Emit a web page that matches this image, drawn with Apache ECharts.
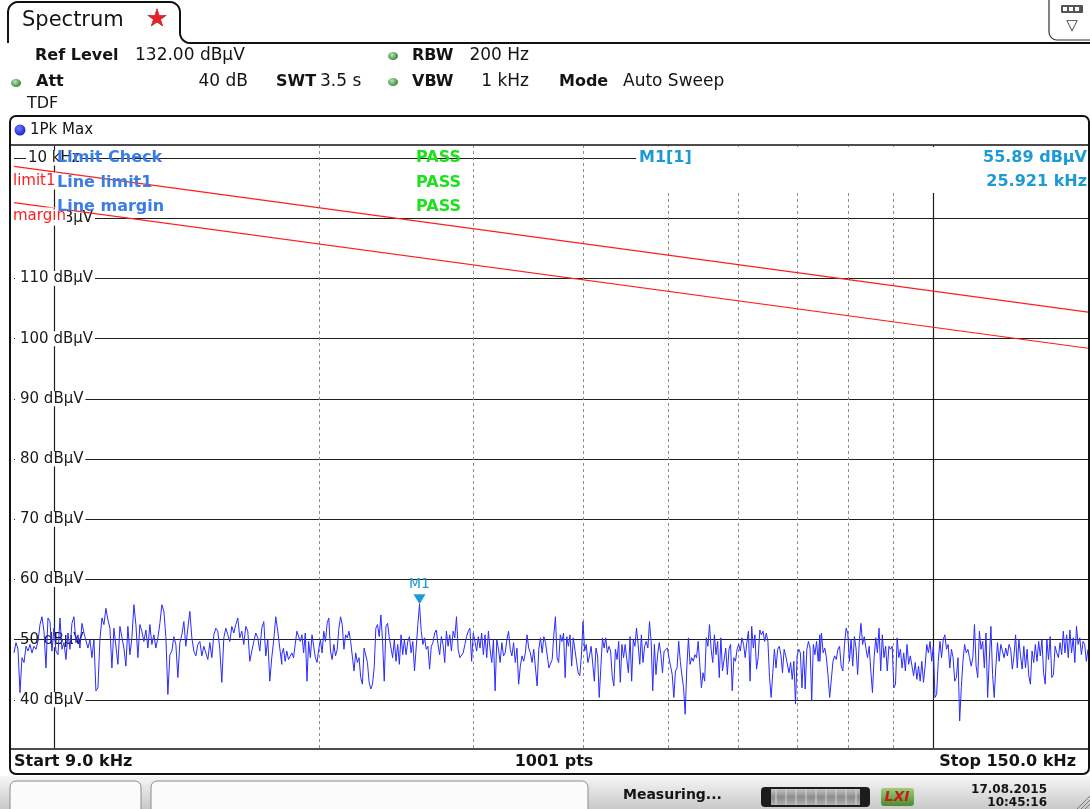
<!DOCTYPE html>
<html><head><meta charset="utf-8">
<script src="https://cdn.jsdelivr.net/npm/echarts@6/dist/echarts.min.js"></script>
<style>html,body{margin:0;padding:0;background:#fff;}#c{width:1090px;height:809px;}</style>
</head><body><div id="c"></div>
<script>
const FONT = '"DejaVu Sans", Verdana, sans-serif';

// ---- axis definitions ----
const yMin = 32, yMax = 132;                       // dBµV, ref level 132
const yGridLevels = [40, 50, 60, 70, 80, 90, 100, 110, 120, 130];
const yLabelLevels = [40, 50, 60, 70, 80, 90, 100, 110, 120, 130];
const fStart = 9000, fStop = 150000;               // Hz
const majorFreqLines = [10000, 100000];
const minorFreqLines = [20000, 30000, 40000, 50000, 60000, 70000, 80000, 90000];
const displayLineLevel = 50;

// ---- limit lines ----
const limitFreqs = [9000, 150000];
const limit1Levels = [128.6, 104.4];
const marginLevels = [122.6, 98.4];

const sweepEdgesHz = [9000, 18150, 36700, 74300, 150000];
const traceA = [47.8,49.5,48.4,41.2,47.0,46.2,48.9,48.1,49.2,47.8,48.9,48.4,49.7,52.5,53.8,51.4,45.3,53.6,53.0,48.1,51.9,48.1,47.5,53.6,48.4,49.5,46.7,51.1,48.4,52.7,53.8,49.5,50.8,48.6,52.7,51.1,51.4,48.6,50.0,47.0,50.0,41.5,42.0,50.0,53.6,52.5,55.2,53.3,51.9,45.3,51.9,51.9,45.9,52.2,51.9,48.6,45.6,52.2,47.5,50.3,55.8,52.5,47.0,52.5,51.4,49.7,51.6,48.6,52.5,49.2,50.8,48.6,50.3,52.7,55.8,54.7,50.5,40.9,47.5,48.1,50.5,49.2,43.7,49.5,50.8,53.0,48.9,51.9,54.7,50.3,48.1,47.3,49.2,49.7,47.3,48.9,48.9,46.7,49.5,47.0,50.8,51.9,51.4,48.4,42.9,50.3,51.9,50.8,49.7,52.2,51.1,52.5,53.6,50.3,51.4,49.2,52.2,51.4,46.4,48.1,49.7,51.1,50.3,48.1,51.9,53.0,47.3,50.0,43.1,47.0,50.0,53.8,51.4,48.6,45.9];
const traceB = [47.5,48.6,46.4,48.1,46.7,46.4,47.8,47.0,49.2,51.4,51.6,49.7,50.8,47.8,51.1,43.1,49.7,47.0,50.8,48.9,47.0,46.2,48.4,50.0,47.8,51.4,49.7,52.7,53.6,48.1,46.7,49.2,47.3,48.4,51.9,53.8,52.5,48.4,50.8,50.3,51.4,49.7,49.5,44.8,47.8,46.2,47.0,43.7,42.6,48.6,48.9,46.2,42.9,41.8,42.6,45.3,51.9,52.5,50.5,54.1,49.7,43.1,52.2,52.7,50.3,50.5,47.0,50.0,46.4,49.2,45.9,50.8,47.5,50.0,47.5,49.7,50.5,47.8,49.7,44.8,48.6,52.5,55.89,51.4,49.2,50.3,48.4,48.9,45.1,48.9,49.5,51.1,51.6,49.2,47.5,50.5,49.2,46.2,51.4,48.9,50.8,48.1,51.4,50.3,53.8,48.4,47.0,46.7,47.8,49.2,50.5,51.4,51.9,46.4,51.1,49.7,48.1,50.5,48.6,51.1,47.5,50.8,47.0,51.4,48.4,46.2,50.0,41.5,50.0,48.4,46.2,49.5,47.3,47.8,50.0,51.4,48.4,47.3,49.5,46.2,48.6,42.6,45.6,47.3,46.4,47.8,50.8,48.6,47.8,46.2,48.4,48.6,42.3,48.4,50.3,47.8,50.5,49.5,49.2,45.3,45.1];
const traceC = [45.1,46.7,50.8,53.8,47.0,46.2,50.8,49.7,51.1,43.7,50.5,48.9,50.8,45.6,50.3,50.5,46.4,44.5,44.0,47.3,53.0,48.1,49.2,46.2,47.3,48.9,49.2,43.1,48.6,47.3,40.4,45.3,50.3,48.6,50.3,47.8,48.9,48.1,44.0,42.3,48.4,46.7,49.7,42.9,49.2,47.0,49.2,46.7,44.5,50.5,43.1,50.0,48.9,51.9,49.2,45.9,50.8,46.2,48.9,49.7,48.6,53.0,49.7,41.5,49.2,44.2,47.5,49.5,47.5,44.5,48.1,47.8,48.6,47.0,45.6,44.2,40.4,44.8,45.3,49.7,46.4,44.0,42.0,37.6,45.3,50.3,45.9,47.0,46.4,47.5,47.0,49.7,45.9,42.0,44.5,43.1,50.3,48.9,52.5,48.4,46.2,50.8,47.5,49.7,43.7,50.3,44.8,45.1,48.6,44.2,48.4,49.2,41.5,47.0,46.4,48.4,49.2,48.1,50.3,49.2,47.0,49.5,51.4,43.1,52.2,48.6,50.8,45.1,47.0,51.6,50.8,51.4,49.7,51.1,49.7,43.7,40.4,44.5,48.4,45.3,48.4,48.9,47.5,44.5,48.4,47.3,47.0,44.5,46.2,43.4,46.4,39.3,47.3,48.4,47.8,42.0,48.1,41.8,48.4,49.7,48.6,39.8,49.2,47.5,49.7,46.4,50.8];
const traceD = [46.4,51.1,47.8,48.6,47.0,44.0,40.4,40.7,46.4,47.3,46.7,48.4,48.9,45.6,44.8,49.2,51.9,51.1,46.4,50.0,45.6,50.5,48.6,44.2,49.7,52.7,49.2,50.5,48.6,47.0,48.9,44.8,41.2,47.0,50.3,47.8,51.9,44.8,50.8,47.0,48.9,44.8,48.9,48.4,48.9,42.0,42.6,50.3,47.0,48.4,45.3,47.8,44.8,49.2,45.9,47.3,47.0,44.0,46.2,43.4,45.6,43.1,46.4,42.9,45.6,49.2,47.8,49.7,46.4,48.9,40.4,40.9,46.4,49.7,47.0,50.0,50.8,48.4,49.2,45.3,48.4,47.0,43.1,43.7,47.0,36.5,42.0,46.4,49.2,47.8,48.4,47.0,45.6,47.0,52.5,45.6,43.7,51.4,48.4,49.7,45.3,51.1,40.4,46.7,52.2,44.2,40.4,45.6,49.5,46.4,49.2,48.9,47.0,48.6,47.3,49.2,48.4,45.1,47.3,50.8,45.3,50.0,47.3,45.1,48.9,45.3,48.4,44.0,42.6,48.1,46.2,49.2,46.4,49.7,47.3,50.0,44.5,42.6,50.0,46.7,50.5,43.7,44.2,48.9,47.8,47.0,49.5,47.5,51.4,47.8,50.8,47.0,51.6,47.8,50.3,46.2,52.2,49.2,50.3,47.5,49.7,49.2,46.4,48.4];
const traceSegments = [traceA, traceB, traceC, traceD];

// ---- texts ----
const titleText = 'Spectrum';
const markerName = 'M1';
const markerTitle = 'M1[1]';
const markerLevelText = '55.89 dBµV';
const markerFreqText = '25.921 kHz';
const limitRows = [['Limit Check', 'PASS'], ['Line limit1', 'PASS'], ['Line margin', 'PASS']];

// build trace points (log-spaced sweep points inside each section)
const traceData = [];
traceSegments.forEach((vals, s) => {
  const f0 = sweepEdgesHz[s], f1 = sweepEdgesHz[s + 1];
  vals.forEach((v, i) => traceData.push([f0 * Math.pow(f1 / f0, i / (vals.length - 1)), v]));
});
let peak = traceData[0];
traceData.forEach(p => { if (p[1] > peak[1]) peak = p; });

const BLUE = '#2b2bff', RED = '#ff1e1e', CYAN = '#1b9ad6', LBLUE = '#3b7de6', GREEN = '#1ee01e';

function arcPts(cx, cy, r, a0, a1, n) {
  const pts = [];
  for (let i = 0; i <= n; i++) {
    const a = (a0 + (a1 - a0) * i / n) * Math.PI / 180;
    pts.push([cx + r * Math.cos(a), cy + r * Math.sin(a)]);
  }
  return pts;
}
const tabPts = [[8, 43]].concat(
  arcPts(18, 12, 10, 180, 270, 6),
  arcPts(170, 12, 10, 270, 360, 6),
  arcPts(190, 33, 10, 180, 90, 6),
  [[1090, 43]]
);

function txt(x, y, text, o) {
  o = o || {};
  return {type: 'text', x: x, y: y, z: o.z || 50, silent: true,
    style: Object.assign({text: text, fontFamily: FONT, fontSize: 16, fill: '#141414',
      textAlign: 'left', textVerticalAlign: 'middle', verticalAlign: 'middle'}, o.style || {})};
}
function dot(x, y) {
  return {type: 'ellipse', shape: {cx: x, cy: y, rx: 5, ry: 4}, z: 50, silent: true,
    style: {fill: new echarts.graphic.RadialGradient(0.4, 0.35, 0.7, [{offset: 0, color: '#b6e6b6'}, {offset: 1, color: '#3d8b3d'}])}};
}

const graphics = [
  // header tab & line
  {type: 'polyline', shape: {points: tabPts}, z: 40, silent: true, style: {stroke: '#111', lineWidth: 2, fill: 'none'}},
  {type: 'rect', shape: {x: 1049, y: -12, width: 50, height: 52, r: 8}, z: 41, silent: true, style: {fill: '#fff', stroke: '#333', lineWidth: 1.2}},
  {type: 'rect', shape: {x: 1061, y: 5, width: 22, height: 8, r: 1}, z: 42, silent: true, style: {fill: '#555'}},
  {type: 'rect', shape: {x: 1063, y: 7, width: 4, height: 4}, z: 43, silent: true, style: {fill: '#fff'}},
  {type: 'rect', shape: {x: 1069, y: 7, width: 4, height: 4}, z: 43, silent: true, style: {fill: '#fff'}},
  {type: 'rect', shape: {x: 1075, y: 7, width: 4, height: 4}, z: 43, silent: true, style: {fill: '#fff'}},
  txt(1072, 26, '▽', {style: {fontSize: 15, textAlign: 'center', fill: '#333'}}),
  txt(22, 21, titleText, {style: {fontSize: 21}}),
  txt(157, 20, '★', {style: {fontSize: 24, textAlign: 'center', fill: '#e8202a', stroke: '#8a1010', lineWidth: 0.6}}),
  // header parameters
  txt(35, 56, 'Ref Level', {style: {fontWeight: 'bold'}}),
  txt(135, 56, '132.00 dBµV', {style: {fontSize: 17}}),
  dot(393, 56),
  txt(412, 56, 'RBW', {style: {fontWeight: 'bold'}}),
  txt(529, 56, '200 Hz', {style: {textAlign: 'right', fontSize: 17}}),
  dot(16, 83),
  txt(36, 82, 'Att', {style: {fontWeight: 'bold'}}),
  txt(248, 82, '40 dB', {style: {textAlign: 'right', fontSize: 17}}),
  txt(276, 82, 'SWT', {style: {fontWeight: 'bold'}}),
  txt(320, 82, '3.5 s', {style: {fontSize: 17}}),
  dot(393, 82),
  txt(412, 82, 'VBW', {style: {fontWeight: 'bold'}}),
  txt(529, 82, '1 kHz', {style: {textAlign: 'right', fontSize: 17}}),
  txt(559, 82, 'Mode', {style: {fontWeight: 'bold'}}),
  txt(623, 82, 'Auto Sweep', {style: {fontSize: 17}}),
  txt(27, 104, 'TDF'),
  // diagram frame
  {type: 'rect', shape: {x: 10, y: 116, width: 1079, height: 658, r: 6}, z: 45, silent: true, style: {fill: 'none', stroke: '#111', lineWidth: 2}},
  {type: 'line', shape: {x1: 10, y1: 145, x2: 1089, y2: 145}, z: 45, silent: true, style: {stroke: '#111', lineWidth: 1.5}},
  {type: 'line', shape: {x1: 10, y1: 749, x2: 1089, y2: 749}, z: 45, silent: true, style: {stroke: '#111', lineWidth: 1.5}},
  {type: 'circle', shape: {cx: 20, cy: 130, r: 5.5}, z: 50, silent: true,
    style: {fill: new echarts.graphic.RadialGradient(0.4, 0.35, 0.7, [{offset: 0, color: '#6f7bff'}, {offset: 1, color: '#1020c8'}])}},
  txt(30, 130, '1Pk Max', {style: {fontSize: 15}}),
  // marker info box
  {type: 'rect', shape: {x: 636, y: 147, width: 452, height: 46}, z: 30, silent: true, style: {fill: '#fff'}},
  txt(639, 158, markerTitle, {style: {fontWeight: 'bold', fill: CYAN}}),
  txt(1087, 158, markerLevelText, {style: {fontWeight: 'bold', fill: CYAN, textAlign: 'right'}}),
  txt(1087, 182, markerFreqText, {style: {fontWeight: 'bold', fill: CYAN, textAlign: 'right'}}),
  // limit line names
  txt(12, 181, 'limit1', {z: 35, style: {fontSize: 15, fill: RED, backgroundColor: '#fff', padding: [1, 1, 1, 1]}}),
  txt(12, 216, 'margin', {z: 35, style: {fontSize: 15, fill: RED, backgroundColor: '#fff', padding: [1, 1, 1, 1]}}),
  // bottom info bar
  txt(14, 762, 'Start 9.0 kHz', {style: {fontWeight: 'bold'}}),
  txt(554, 762, '1001 pts', {style: {fontWeight: 'bold', textAlign: 'center'}}),
  txt(1076, 762, 'Stop 150.0 kHz', {style: {fontWeight: 'bold', textAlign: 'right'}}),
  // status bar
  {type: 'rect', shape: {x: 0, y: 776, width: 1090, height: 33}, z: 20, silent: true,
    style: {fill: new echarts.graphic.LinearGradient(0, 0, 0, 1, [{offset: 0, color: '#f6f6f6'}, {offset: 1, color: '#c9c9c9'}])}},
  {type: 'rect', shape: {x: 10, y: 781, width: 131, height: 34, r: 6}, z: 21, silent: true, style: {fill: '#fbfbfb', stroke: '#8c8c8c', lineWidth: 1}},
  {type: 'rect', shape: {x: 151, y: 781, width: 437, height: 34, r: 6}, z: 21, silent: true, style: {fill: '#fbfbfb', stroke: '#8c8c8c', lineWidth: 1}},
  txt(623, 795, 'Measuring...', {style: {fontWeight: 'bold', fontSize: 14}}),
  {type: 'rect', shape: {x: 761, y: 787, width: 109, height: 20, r: 4}, z: 21, silent: true, style: {fill: '#1c1c1c'}},
  {type: 'rect', shape: {x: 771, y: 789, width: 89, height: 16}, z: 22, silent: true,
    style: {fill: new echarts.graphic.LinearGradient(0, 0, 0, 1, [{offset: 0, color: '#c4c4c4'}, {offset: 0.5, color: '#8c8c8c'}, {offset: 1, color: '#b0b0b0'}])}},
  {type: 'rect', shape: {x: 881, y: 788, width: 33, height: 18, r: 3}, z: 21, silent: true,
    style: {fill: new echarts.graphic.LinearGradient(0, 0, 0, 1, [{offset: 0, color: '#9ccf7a'}, {offset: 1, color: '#4f8a32'}])}},
  txt(897, 797, 'LXI', {style: {fontWeight: 'bold', fontStyle: 'italic', fontSize: 14, fill: '#c81c1c', textAlign: 'center'}}),
  txt(1047, 790, '17.08.2015', {style: {fontWeight: 'bold', fontSize: 12, textAlign: 'right'}}),
  txt(1047, 803, '10:45:16', {style: {fontWeight: 'bold', fontSize: 12, textAlign: 'right'}}),
  {type: 'line', shape: {x1: 1077, y1: 809, x2: 1090, y2: 796}, z: 22, silent: true, style: {stroke: '#777', lineWidth: 1}},
  {type: 'line', shape: {x1: 1081, y1: 809, x2: 1090, y2: 800}, z: 22, silent: true, style: {stroke: '#777', lineWidth: 1}},
  {type: 'line', shape: {x1: 1085, y1: 809, x2: 1090, y2: 804}, z: 22, silent: true, style: {stroke: '#777', lineWidth: 1}}
];
// progress bar stripes
for (let i = 0; i < 9; i++) {
  graphics.push({type: 'line', shape: {x1: 776 + i * 10, y1: 789, x2: 776 + i * 10, y2: 805}, z: 23, silent: true, style: {stroke: '#d6d6d6', lineWidth: 1}});
}
// limit check rows
limitRows.forEach((r, i) => {
  const y = 158 + i * 24.5;
  graphics.push(txt(57, y, r[0], {z: 60, style: {fontWeight: 'bold', fill: LBLUE}}));
  graphics.push(txt(416, y, r[1], {z: 60, style: {fontWeight: 'bold', fill: GREEN}}));
});

const chart = echarts.init(document.getElementById('c'), null, {renderer: 'canvas'});
chart.setOption({
  animation: false,
  backgroundColor: '#fff',
  grid: {left: 14, right: 2, top: 146, bottom: 61, containLabel: false},
  xAxis: {type: 'log', logBase: 10, min: fStart, max: fStop,
    axisLine: {show: false}, axisTick: {show: false}, axisLabel: {show: false}, splitLine: {show: false}},
  yAxis: {type: 'value', min: yMin, max: yMax, splitNumber: 10, z: 3,
    axisLine: {show: false}, axisTick: {show: false}, splitLine: {show: false},
    axisLabel: {inside: true, margin: 1, customValues: yLabelLevels,
      formatter: v => (v === 130 ? '{s|}{k|10 kHz}' : (v % 10 === 0 && v >= 40 ? '{a|' + v + ' dBµV}' : '')),
      rich: {
        a: {fontFamily: FONT, fontSize: 15, color: '#1a1a1a', backgroundColor: '#fff', padding: [0, 2, 0, 5]},
        s: {width: 11},
        k: {fontFamily: FONT, fontSize: 15, color: '#1a1a1a', backgroundColor: '#fff', padding: [0, 2, 0, 2]}
      },
      fontFamily: FONT, fontSize: 15, color: '#1a1a1a'}},
  series: [
    {type: 'line', name: 'grid', data: [[fStart, yMin]], symbol: 'none', lineStyle: {opacity: 0}, silent: true, z: 1,
      markLine: {z: 1, silent: true, symbol: 'none', animation: false, label: {show: false},
        data: [].concat(
          yGridLevels.map(v => ({yAxis: v, lineStyle: {color: '#1e1e1e', width: 1.2, type: 'solid'}})),
          majorFreqLines.map(f => ({xAxis: f, lineStyle: {color: '#1e1e1e', width: 1.2, type: 'solid'}})),
          minorFreqLines.map(f => ({xAxis: f, lineStyle: {color: '#8c8c8c', width: 1, type: [3, 3]}}))
        )}},
    {type: 'line', name: 'limit1', data: limitFreqs.map((f, i) => [f, limit1Levels[i]]), symbol: 'none', silent: true, z: 4,
      lineStyle: {color: RED, width: 1.2}},
    {type: 'line', name: 'margin', data: limitFreqs.map((f, i) => [f, marginLevels[i]]), symbol: 'none', silent: true, z: 4,
      lineStyle: {color: RED, width: 1.2}},
    {type: 'line', name: '1Pk Max', data: traceData, symbol: 'none', silent: true, z: 10,
      lineStyle: {color: BLUE, width: 1},
      markLine: {z: 9, silent: true, symbol: 'none', label: {show: false},
        data: [{yAxis: displayLineLevel, lineStyle: {color: '#1e1e1e', width: 1.2, type: 'solid'}}]},
      markPoint: {z: 11, silent: true, symbol: 'triangle', symbolRotate: 180, symbolSize: [12, 10], symbolOffset: [0, -5],
        itemStyle: {color: CYAN},
        label: {show: true, position: 'top', distance: 3, formatter: markerName, color: CYAN, fontFamily: FONT, fontSize: 14},
        data: [{coord: peak}]}}
  ],
  graphic: {elements: graphics}
});
</script></body></html>
